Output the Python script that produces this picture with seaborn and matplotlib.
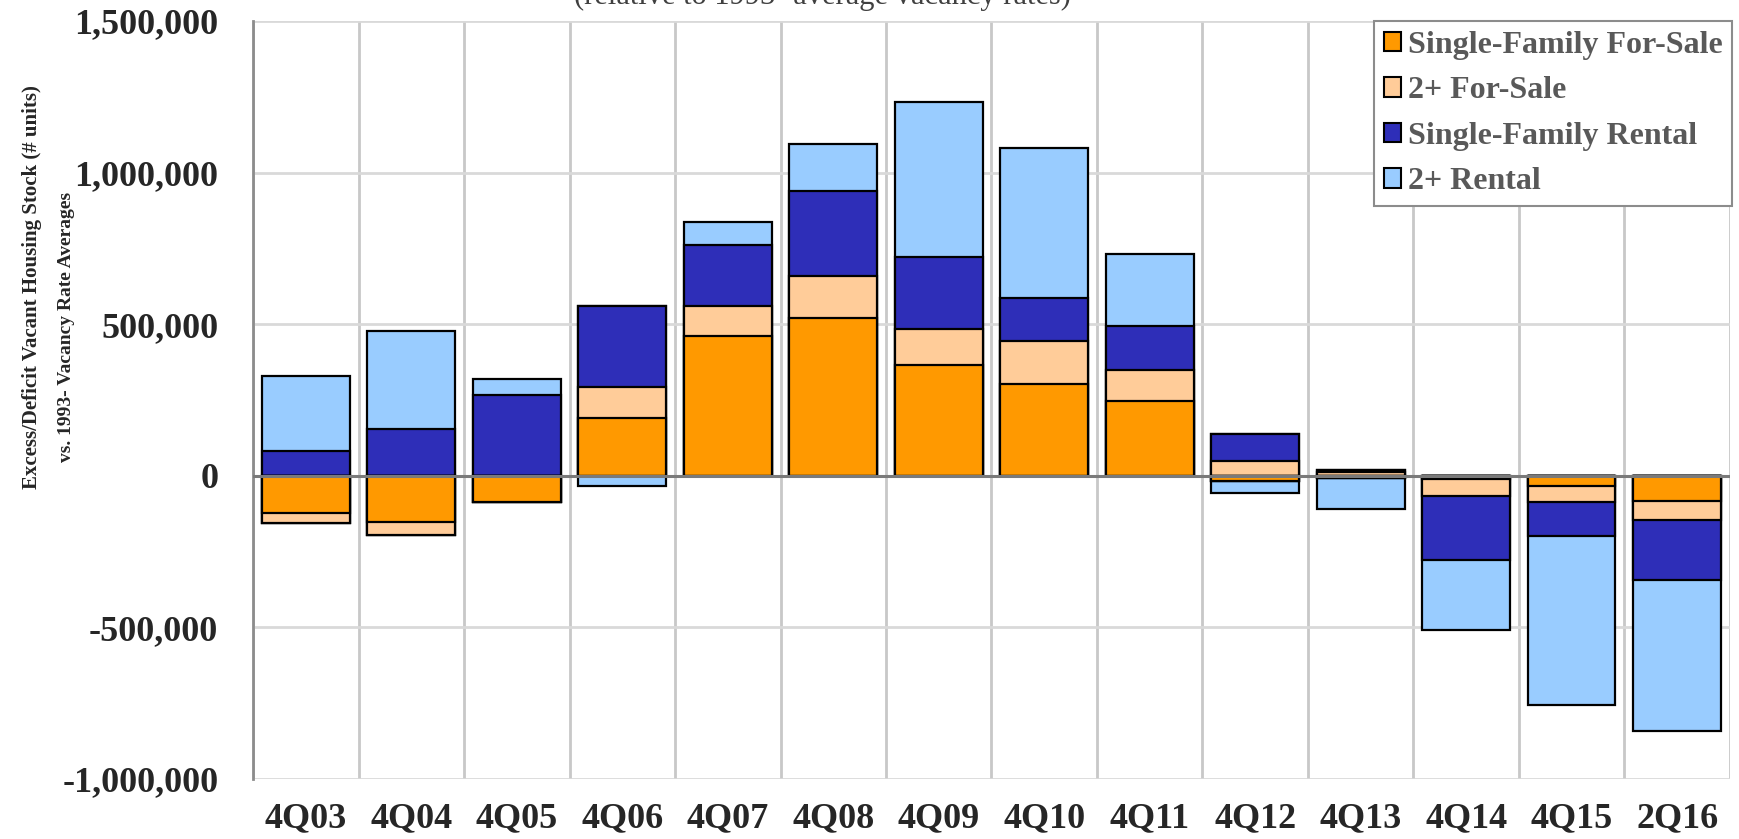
import numpy as np
import pandas as pd
import matplotlib
matplotlib.use("Agg")
from matplotlib import pyplot as plt
from matplotlib.patches import Patch
from matplotlib.ticker import FuncFormatter, FixedLocator
import seaborn as sns

# quarters and the four vacancy components (units, thousands)
quarters = ["4Q03", "4Q04", "4Q05", "4Q06", "4Q07", "4Q08", "4Q09",
            "4Q10", "4Q11", "4Q12", "4Q13", "4Q14", "4Q15", "2Q16"]
sf_for_sale = [-122, -152, -87, 192, 460, 520, 365, 302, 247, -17, -6, -12, -33, -83]
mf_for_sale = [-33, -42, 0, 101, 101, 139, 120, 144, 102, 50, 14, -54, -52, -63]
sf_rental = [81, 155, 268, 266, 201, 280, 235, 141, 144, 88, 6, -213, -114, -197]
mf_rental = [247, 321, 51, -33, 76, 154, 513, 493, 240, -41, -105, -230, -556, -499]

series_names = ["Single-Family For-Sale", "2+ For-Sale", "Single-Family Rental", "2+ Rental"]
series_colors = ["#FF9900", "#FFCC99", "#2E2EB8", "#99CCFF"]

sns.set_style("white")
plt.rcParams["font.family"] = ["Liberation Serif", "DejaVu Serif"]

vals = np.array([sf_for_sale, mf_for_sale, sf_rental, mf_rental], dtype=float) * 1000
pos = np.cumsum(np.clip(vals, 0, None), axis=0)
neg = np.cumsum(np.clip(vals, None, 0), axis=0)

fig = plt.figure(figsize=(17.39, 8.39), dpi=100)
ax = fig.add_axes([0.1455, 0.0715, 0.8493, 0.9035])

# stacked bars: draw cumulative totals from the outermost layer inward
for k in range(3, -1, -1):
    for stack in (pos, neg):
        df = pd.DataFrame({"quarter": quarters, "value": stack[k]})
        sns.barplot(data=df, x="quarter", y="value", order=quarters,
                    color=series_colors[k], saturation=1, width=0.83,
                    edgecolor="black", linewidth=1.6, ax=ax, zorder=3)

ax.axhline(0, color="#7a7a7a", lw=2.2, zorder=5)

ax.set_ylim(-1000000, 1500000)
ax.set_xlim(-0.5, len(quarters) - 0.5)
ax.set_yticks(np.arange(-1000000, 1500001, 500000))
ax.yaxis.set_major_formatter(FuncFormatter(lambda v, p: f"{v:,.0f}"))
ax.xaxis.set_minor_locator(FixedLocator(np.arange(-0.5, len(quarters), 1.0)))
ax.grid(axis="y", which="major", color="#d9d9d9", lw=2, zorder=0)
ax.grid(axis="x", which="minor", color="#c8c8c8", lw=2, zorder=0)
ax.grid(axis="x", which="major", visible=False)
ax.set_axisbelow(True)

for side in ["top", "right", "bottom"]:
    ax.spines[side].set_visible(False)
ax.spines["left"].set_color("#8c8c8c")
ax.spines["left"].set_linewidth(2)

ax.tick_params(axis="both", which="both", length=0)
ax.tick_params(axis="y", pad=25, labelsize=26)
ax.tick_params(axis="x", pad=17, labelsize=26)
for lab in ax.get_xticklabels() + ax.get_yticklabels():
    lab.set_fontweight("bold")
ax.set_xlabel("")
ax.set_ylabel("")

fig.text(0.0184, 0.658, "Excess/Deficit Vacant Housing Stock (# units)",
         rotation=90, ha="center", va="center", fontsize=15, fontweight="bold")
fig.text(0.0385, 0.61, "vs. 1993- Vacancy Rate Averages",
         rotation=90, ha="center", va="center", fontsize=14, fontweight="bold")

# subtitle sits mostly above the top edge, as in the source image
fig.text(0.473, 1 - 4 / 839, "(relative to 1993- average vacancy rates)",
         ha="center", va="baseline", fontsize=22, color="#404040")

handles = [Patch(facecolor=c, edgecolor="black", linewidth=1.5) for c in series_colors]
leg = fig.legend(handles, series_names, loc="upper right",
                 bbox_to_anchor=(1732 / 1739, 1 - 21 / 839),
                 bbox_transform=fig.transFigure, borderaxespad=0,
                 fancybox=False, framealpha=1, edgecolor="#8c8c8c",
                 handlelength=0.55, handleheight=0.55, handletextpad=0.2,
                 labelspacing=0.52, borderpad=0.3,
                 prop={"size": 23, "weight": "bold"})
leg.get_frame().set_linewidth(1.5)
for t in leg.get_texts():
    t.set_color("#595959")

fig.savefig("out.png", dpi=100)
